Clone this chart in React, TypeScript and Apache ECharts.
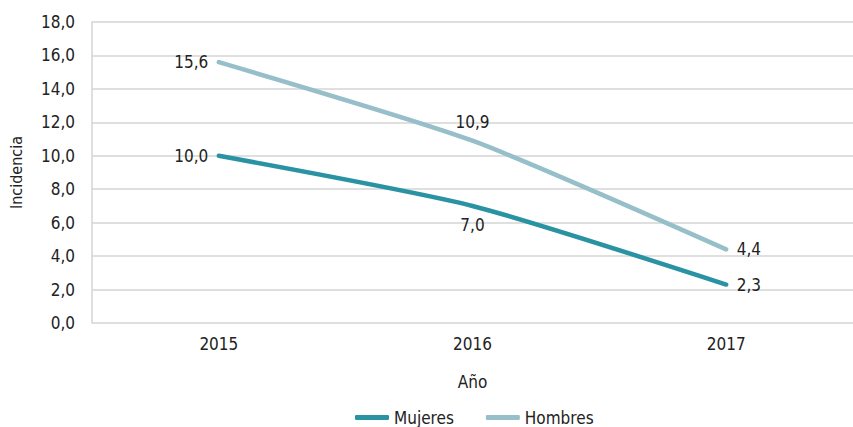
import React, { useEffect, useRef } from "react";
import * as echarts from "echarts";

const categories = ["2015", "2016", "2017"];
const mujeres = [10.0, 7.0, 2.3];
const hombres = [15.6, 10.9, 4.4];
const seriesNames = ["Mujeres", "Hombres"];

const FONT = "'Liberation Sans Narrow', 'DejaVu Sans Condensed', 'Roboto Condensed', sans-serif";

export default function App() {
  const ref = useRef<HTMLDivElement>(null);
  useEffect(() => {
    if (!ref.current) return;
    const chart = echarts.init(ref.current, undefined, { renderer: "svg" });
    const fmt = (v: number) => v.toFixed(1).replace(".", ",");
    const mujPos = ["left", "bottom", "right"];
    const homPos = ["left", "top", "right"];
    const mk = (vals: number[], pos: string[]) =>
      vals.map((v, i) => ({ value: v, label: { position: pos[i] } }));
    const labelStyle = {
      show: true,
      fontFamily: FONT,
      fontSize: 17,
      color: "#222",
      distance: 9,
      formatter: (p: any) => fmt(p.value),
    };
    chart.setOption({
      animation: false,
      textStyle: { fontFamily: FONT },
      grid: { left: 92, top: 22, width: 770, bottom: 104, containLabel: false },
      legend: {
        bottom: -4,
        left: 350,
        icon: "roundRect",
        itemWidth: 34,
        itemHeight: 5,
        itemGap: 32,
        textStyle: { fontFamily: FONT, fontSize: 17, color: "#222" },
        data: seriesNames,
      },
      xAxis: {
        type: "category",
        data: categories,
        name: "Año",
        nameLocation: "middle",
        nameGap: 50,
        nameTextStyle: { fontFamily: FONT, fontSize: 17, color: "#222" },
        axisLine: { show: false },
        axisTick: { show: false },
        axisLabel: { fontFamily: FONT, fontSize: 17, color: "#222", margin: 12 },
      },
      yAxis: {
        type: "value",
        min: 0,
        max: 18,
        interval: 2,
        name: "Incidencia",
        nameLocation: "middle",
        nameGap: 68,
        nameTextStyle: { fontFamily: FONT, fontSize: 16, color: "#222" },
        axisLine: { show: true, lineStyle: { color: "#d4d4d4", width: 1.5 } },
        axisTick: { show: false },
        axisLabel: { fontFamily: FONT, fontSize: 17, color: "#222", margin: 17, formatter: fmt },
        splitLine: { lineStyle: { color: "#d4d4d4", width: 1.5 } },
      },
      series: [
        {
          name: seriesNames[0],
          type: "line",
          data: mk(mujeres, mujPos),
          smooth: 0.2,
          symbol: "circle",
          symbolSize: 3,
          lineStyle: { color: "#2a93a3", width: 4.5, cap: "round" },
          itemStyle: { color: "#2a93a3" },
          label: labelStyle,
        },
        {
          name: seriesNames[1],
          type: "line",
          data: mk(hombres, homPos),
          smooth: 0.2,
          symbol: "circle",
          symbolSize: 3,
          lineStyle: { color: "#97bfca", width: 4.5, cap: "round" },
          itemStyle: { color: "#97bfca" },
          label: labelStyle,
        },
      ],
    });
    return () => chart.dispose();
  }, []);
  return (
    <div
      ref={ref}
      style={{ position: "absolute", left: 0, top: 0, width: 853, height: 427, background: "#fff" }}
    />
  );
}
